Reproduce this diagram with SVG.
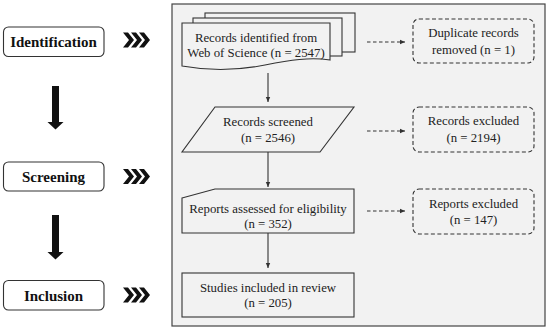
<svg xmlns="http://www.w3.org/2000/svg" width="550" height="331" viewBox="0 0 550 331">
<defs>
<style>
.t{font-family:'Liberation Serif','DejaVu Serif',serif;font-size:12.8px;fill:#222;text-anchor:middle}
.b{font-family:'Liberation Serif','DejaVu Serif',serif;font-size:15px;font-weight:bold;fill:#111;text-anchor:middle}
.sh{fill:#f2f2f2;stroke:#333;stroke-width:1.1}
.stage{fill:#fff;stroke:#333;stroke-width:1.1}
.dbox{fill:#f2f2f2;stroke:#333;stroke-width:1.1;stroke-dasharray:4 2.5}
.ln{stroke:#333;stroke-width:1.1;fill:none}
.dl{stroke:#333;stroke-width:1.1;fill:none;stroke-dasharray:3.5 2.5}
.chev{fill:#111}
</style>
<marker id="ah" markerWidth="6" markerHeight="6" refX="5" refY="3" orient="auto" markerUnits="userSpaceOnUse">
<path d="M0,0.8 L5,3 L0,5.2 Z" fill="#333"/>
</marker>
<g id="chevs">
<polygon class="chev" points="0,-7.5 5,-7.5 11,0 5,7.5 0,7.5 6,0"/>
<polygon class="chev" points="8,-7.5 13,-7.5 19,0 13,7.5 8,7.5 14,0"/>
<polygon class="chev" points="16,-7.5 21,-7.5 27,0 21,7.5 16,7.5 22,0"/>
</g>
</defs>
<rect width="550" height="331" fill="#fff"/>
<rect id="panel" x="172" y="4" width="373" height="322" fill="#f2f2f2" stroke="#444" stroke-width="1.2"/>

<g font-family="Liberation Serif, DejaVu Serif, serif">
<g id="stage-identification">
<rect class="stage" x="3.5" y="27" width="100.5" height="29.5" rx="5"/>
<text class="b" x="53.5" y="47">Identification</text>
<use href="#chevs" x="123" y="40"/>
</g>
<g id="stage-screening">
<rect class="stage" x="3.5" y="162" width="100.5" height="29" rx="5"/>
<text class="b" x="53.5" y="182">Screening</text>
<use href="#chevs" x="123" y="176.5"/>
</g>
<g id="stage-inclusion">
<rect class="stage" x="3.5" y="280.5" width="100.5" height="29.5" rx="5"/>
<text class="b" x="53.5" y="301">Inclusion</text>
<use href="#chevs" x="123" y="295"/>
</g>
<g id="stage-arrows">
<rect x="52" y="86" width="7" height="36" fill="#111"/>
<polygon points="47.5,122 63.5,122 55.5,129.5" fill="#111"/>
<rect x="52" y="215" width="7" height="37" fill="#111"/>
<polygon points="47.5,252 63.5,252 55.5,259.5" fill="#111"/>
</g>

<g id="node-identified">
<rect class="sh" x="205" y="13" width="150" height="39"/>
<rect class="sh" x="193" y="18" width="149" height="38"/>
<path class="sh" d="M182,23 H330 V60 C310,57 290,60 265,65 C240,70 215,72 182,66 Z"/>
<text class="t" x="256" y="42">Records identified from</text>
<text class="t" x="256" y="57">Web of Science (n = 2547)</text>
</g>
<g id="node-duplicates">
<rect class="dbox" x="413" y="19" width="121" height="44" rx="6"/>
<text class="t" x="473.5" y="37">Duplicate records</text>
<text class="t" x="473.5" y="54">removed (n = 1)</text>
</g>
<g id="node-screened">
<polygon class="sh" points="215,107 354,107 320,152 182,152"/>
<text class="t" x="268" y="126">Records screened</text>
<text class="t" x="268" y="142">(n = 2546)</text>
</g>
<g id="node-excluded1">
<rect class="dbox" x="413" y="107" width="121" height="45" rx="6"/>
<text class="t" x="473.5" y="125">Records excluded</text>
<text class="t" x="473.5" y="142">(n = 2194)</text>
</g>
<g id="node-assessed">
<polygon class="sh" points="182,198 215,189 354,189 354,233 182,233"/>
<text class="t" x="268" y="213">Reports assessed for eligibility</text>
<text class="t" x="268" y="228">(n = 352)</text>
</g>
<g id="node-excluded2">
<rect class="dbox" x="413" y="189" width="121" height="45" rx="6"/>
<text class="t" x="473.5" y="208">Reports excluded</text>
<text class="t" x="473.5" y="224">(n = 147)</text>
</g>
<g id="node-included">
<rect class="sh" x="182" y="273" width="172" height="44"/>
<text class="t" x="268" y="292">Studies included in review</text>
<text class="t" x="268" y="307">(n = 205)</text>
</g>
</g>

<g id="connectors">
<line class="ln" x1="268" y1="73" x2="268" y2="102" marker-end="url(#ah)"/>
<line class="ln" x1="268" y1="152" x2="268" y2="187" marker-end="url(#ah)"/>
<line class="ln" x1="268" y1="233" x2="268" y2="268" marker-end="url(#ah)"/>
<line class="dl" x1="367" y1="42" x2="405" y2="42" marker-end="url(#ah)"/>
<line class="dl" x1="367" y1="131" x2="405" y2="131" marker-end="url(#ah)"/>
<line class="dl" x1="367" y1="211" x2="405" y2="211" marker-end="url(#ah)"/>
</g>
</svg>
